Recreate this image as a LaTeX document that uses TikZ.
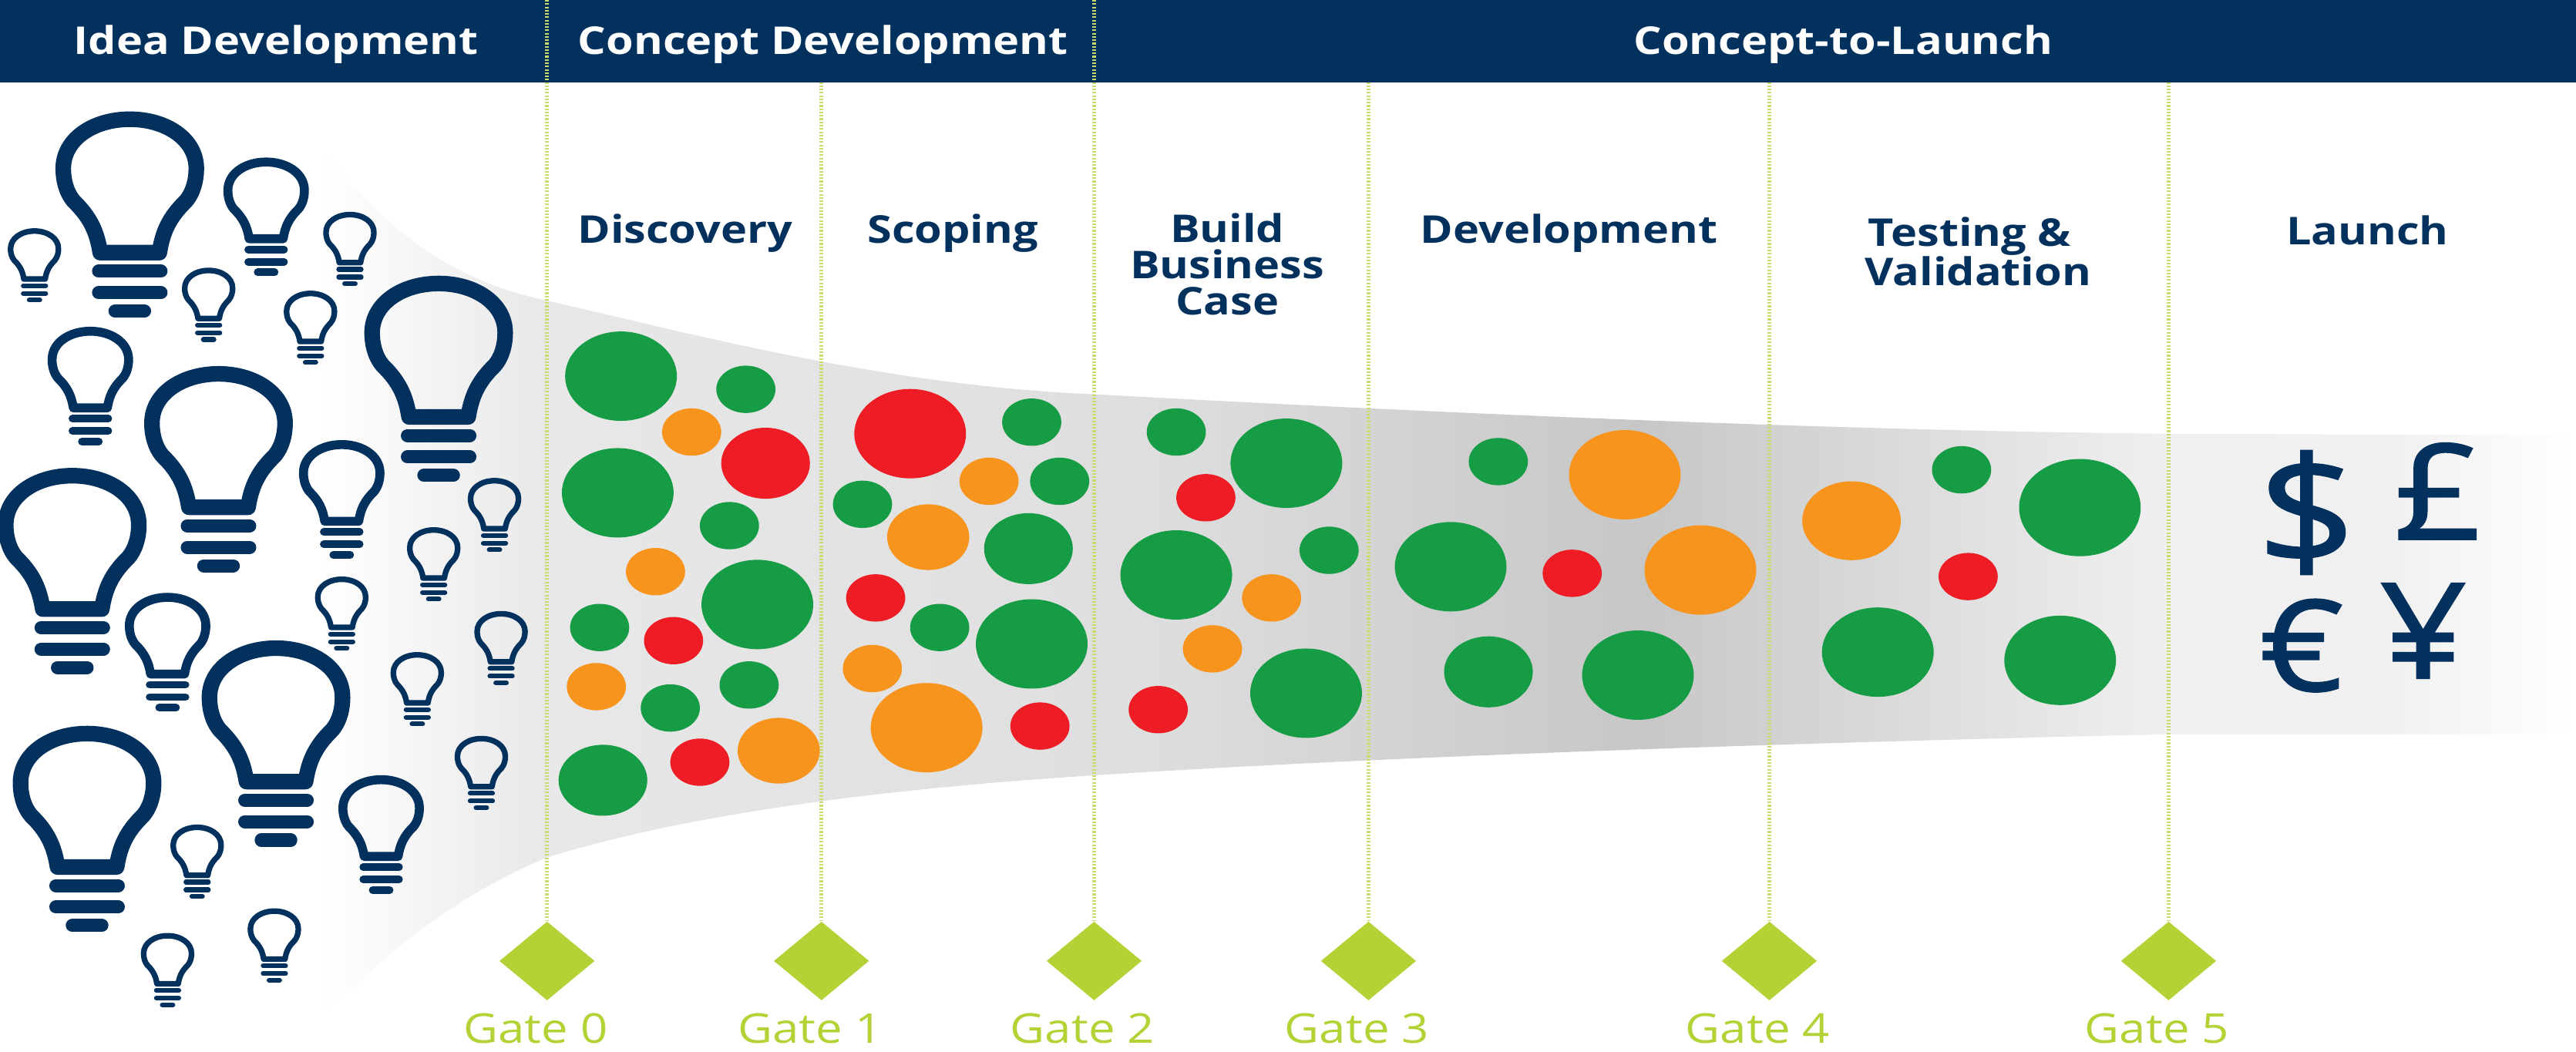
\documentclass[tikz,border=0pt]{standalone}
\usepackage{fontspec}
\setmainfont[FakeStretch=1.16]{Open Sans}
\newfontfamily\moneyfont[FakeStretch=1.15,FakeBold=1.2]{Open Sans}
\usetikzlibrary{positioning,shapes.geometric}
\definecolor{navy}{HTML}{03315E}
\definecolor{limegate}{HTML}{B2D235}
\definecolor{limeline}{HTML}{C9DD6C}
\definecolor{ballgreen}{HTML}{169C45}
\definecolor{ballred}{HTML}{EE1C25}
\definecolor{ballorange}{HTML}{F7941E}
\pgfdeclarehorizontalshading{funnelgrad}{100bp}{color(0bp)=(white);color(25bp)=(white);
  color(30bp)=(white!91!black);color(43.4bp)=(white!87!black);color(54.3bp)=(white!78!black);
  color(66bp)=(white!94!black);color(70.7bp)=(white!94!black);color(75bp)=(white);color(100bp)=(white)}
\tikzset{
  header/.style={font=\fontsize{23.3}{25}\selectfont\bfseries,text=white},
  stage/.style={font=\fontsize{23.3}{24}\selectfont\bfseries,text=navy,align=center},
  gate/.style={diamond,fill=limegate,inner sep=0pt,minimum width=58pt,minimum height=48pt},
  gateline/.style={limeline,line width=2.5pt,dash pattern=on 1pt off 1pt},
  gatetext/.style={font=\fontsize{25}{26}\selectfont,text=limegate},
  money/.style={font=\fontsize{81}{81}\moneyfont,text=navy,inner sep=0pt},
  pics/bulb/.style={code={
    \draw[navy,line width=#1*9.5pt,line join=round,scale=#1,yscale=.975] (-18,88) -- (18,88)
      .. controls (20,75) and (24,66) .. (34,56)
      .. controls (39,50) and (40.5,42) .. (40.5,35.5)
      .. controls (40.5,17) and (22,4.7) .. (0,4.7)
      .. controls (-22,4.7) and (-40.5,17) .. (-40.5,35.5)
      .. controls (-40.5,42) and (-39,50) .. (-34,56)
      .. controls (-24,66) and (-20,75) .. (-18,88) -- cycle;
    \draw[navy,line width=#1*8pt,line cap=round,scale=#1,yscale=.975] (-19,99.6) -- (19,99.6);
    \draw[navy,line width=#1*8pt,line cap=round,scale=#1,yscale=.975] (-19,113) -- (19,113);
    \draw[navy,line width=#1*8pt,line cap=round,scale=#1,yscale=.975] (-9,124.5) -- (9,124.5);
  }}
}
\begin{document}
\begin{tikzpicture}[x=1pt,y=-1pt]
\useasboundingbox (0,0) rectangle (1568,640);
% funnel
\shade[shading=funnelgrad] (195,88) .. controls (230,135) and (270,170) .. (333,183)
  .. controls (420,203) and (540,235) .. (666,240)
  .. controls (850,250) and (1100,262) .. (1320,264) -- (1568,265) -- (1568,447) -- (1320,447)
  .. controls (1100,452) and (850,460) .. (666,472)
  .. controls (540,480) and (420,495) .. (333,522)
  .. controls (270,548) and (225,590) .. (195,620) -- cycle;
% header bar
\fill[navy] (0,0) rectangle (1568,50);
\node[header] (idea) at (168,27) {Idea Development};
\node[header] (concept) at (501,27) {Concept Development};
\node[header] (launchbar) at (1122,27) {Concept-to-Launch};
% gates
\foreach \n/\x/\top in {0/333/0,1/500/50,2/666/0,3/833/50,4/1077/50,5/1320/50}{
  \coordinate (t\n) at (\x,\top);
  \node[gate] (g\n) at (\x,585) {};
  \node[gatetext] (l\n) at (\x-7,626) {Gate \n};
  \draw[gateline] (t\n) -- (g\n.north);
}
% bulbs
\foreach \x/\y/\s in {79/68/1,267/168/1,133/223/1,44/285/1,168/390/1,53/442/1,
  162/96/.575,55/199/.575,208/268/.575,102/361/.575,232/472/.575,
  21/139/.36,127/163/.36,213/129/.36,189/177/.36,301/291/.36,264/321/.36,
  208/351/.36,305/372/.36,254/397/.36,293/448/.36,120/502/.36,102/568/.36,167/553/.36}
  \pic at (\x,\y) {bulb=\s};
% balls
\foreach \x/\y/\r in {378/229/34,454/237/18,376/300/34,444/320/18,461/368/34,365/382/18,456/417/18,408/431/18,367/475/27,
  628/257/18,645/293/18,525/307/18,626/334/27,572/382/18,628/392/34,
  716/263/18,783/282/34,809/335/18,716/350/34,795/422/34,
  912/281/18,883/345/34,906/409/27,997/411/34,
  1194/286/18,1266/309/37,1143/397/34,1254/402/34}
  \fill[ballgreen] (\x,\y) ellipse (\r pt and .8*\r pt);
\foreach \x/\y/\r in {466/282/27,410/390/18,426/464/18,554/264/34,533/364/18,633/442/18,
  734/303/18,705/432/18,957/349/18,1198/351/18}
  \fill[ballred] (\x,\y) ellipse (\r pt and .8*\r pt);
\foreach \x/\y/\r in {421/263/18,399/348/18,363/418/18,474/457/25,602/293/18,565/327/25,531/407/18,564/443/34,
  774/364/18,738/395/18,989/289/34,1035/347/34,1127/317/30}
  \fill[ballorange] (\x,\y) ellipse (\r pt and .8*\r pt);
% stage names
\node[stage] (discovery) at (417,142) {Discovery};
\node[stage] (scoping) at (580,142) {Scoping};
\node[stage] (build) at (747,161) {Build\\[-2pt]Business\\[-2pt]Case};
\node[stage] (development) at (955,142) {Development};
\node[stage] (testing) at (1204,153) {Testing \&\hspace{10pt}\null\\Validation};
\node[stage] (launch) at (1441,140) {Launch};
% money
\node[money,font=\fontsize{92}{92}\moneyfont] (dollar) at (1404,312) {\$};
\node[money] (pound) at (1484,299) {£};
\node[money,font=\fontsize{77}{77}\moneyfont] (euro) at (1401,393) {€};
\node[money] (yen) at (1475,384) {¥};
\end{tikzpicture}
\end{document}
